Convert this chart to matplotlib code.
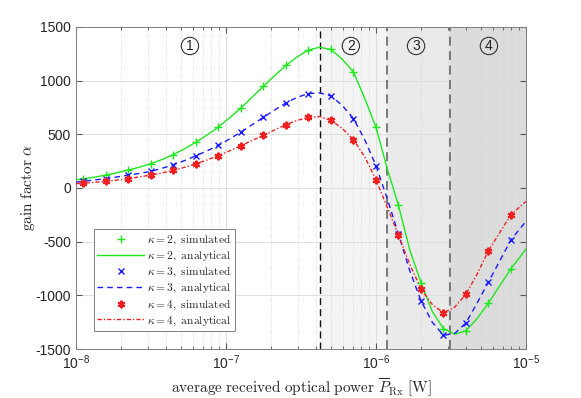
import matplotlib
matplotlib.use("Agg")
import matplotlib.pyplot as plt
import numpy as np

plt.rcParams["font.family"] = ["Liberation Sans", "DejaVu Sans"]
plt.rcParams["mathtext.fontset"] = "custom"
plt.rcParams["mathtext.rm"] = "Liberation Sans"
plt.rcParams["mathtext.it"] = "Liberation Sans:italic"
plt.rcParams["mathtext.bf"] = "Liberation Sans:bold"

# received power grid in dBm (simulation points and analytical curve samples)
dbm_sim = [-49.5, -48.0, -46.5, -45.0, -43.5, -42.0, -40.5, -39.0, -37.5, -36.0,
           -34.5, -33.0, -31.5, -30.0, -28.5, -27.0, -25.5, -24.0, -22.5, -21.0]
dbm_ana = [-50.0, -49.5, -48.75, -48.0, -47.25, -46.5, -45.75, -45.0, -44.25, -43.5,
           -42.75, -42.0, -41.25, -40.5, -39.75, -39.0, -38.25, -37.5, -36.75, -36.0,
           -35.25, -34.5, -33.75, -33.0, -32.25, -31.5, -30.75, -30.0, -29.25, -28.5,
           -27.75, -27.0, -26.25, -25.5, -24.75, -24.0, -23.25, -22.5, -21.75, -21.0,
           -20.0]

k2_sim = [85, 120, 168, 227, 312, 427, 569, 746, 948, 1142,
          1284, 1292, 1080, 565, -162, -881, -1310, -1328, -1072, -752]
k3_sim = [64, 88, 120, 155, 217, 301, 397, 522, 659, 793,
          880, 857, 646, 208, -430, -1051, -1372, -1258, -875, -482]
k4_sim = [45, 62, 87, 121, 164, 226, 301, 395, 491, 590,
          657, 631, 451, 77, -440, -940, -1163, -989, -585, -248]

k2_ana = [77, 85, 102, 120, 143, 168, 195, 227, 266, 312,
          366, 427, 495, 569, 655, 746, 847, 948, 1048, 1142,
          1222, 1285, 1312, 1290, 1200, 1080, 835, 565, 180, -162,
          -575, -881, -1150, -1310, -1362, -1330, -1215, -1072, -910, -752,
          -569]
k3_ana = [55, 63, 75, 88, 103, 120, 136, 155, 184, 217,
          256, 301, 347, 397, 458, 522, 590, 659, 727, 793,
          845, 880, 886, 857, 770, 646, 450, 208, -100, -430,
          -770, -1051, -1250, -1372, -1355, -1256, -1070, -875, -680, -482,
          -311]
k4_ana = [40, 45, 53, 62, 74, 87, 104, 121, 141, 164,
          193, 226, 262, 301, 347, 395, 443, 491, 541, 590,
          630, 657, 665, 631, 555, 451, 290, 77, -180, -440,
          -710, -940, -1085, -1163, -1110, -989, -800, -585, -415, -248,
          -125]

bounds = [4.26e-7, 1.18e-6, 3.11e-6]
region_x = [5.75e-8, 6.8e-7, 1.85e-6, 5.66e-6]
region_lbl = ["1", "2", "3", "4"]

x_sim = 10 ** (np.array(dbm_sim) / 10 - 3)
x_ana = 10 ** (np.array(dbm_ana) / 10 - 3)

fig = plt.figure(figsize=(5.81, 3.98), dpi=100)
ax = fig.add_axes([0.1308, 0.1231, 0.7745, 0.8091])

# shaded regions
ax.axvspan(bounds[0], 1e-5, color="#f4f4f4", lw=0, zorder=0)
ax.axvspan(bounds[1], 1e-5, color="#eaeaea", lw=0, zorder=0)
ax.axvspan(bounds[2], 1e-5, color="#dcdcdc", lw=0, zorder=0)

ax.plot(x_sim, k2_sim, ls="None", marker="+", color="#1ee81e", ms=6, mew=1.0, zorder=4,
        label=r"$\kappa = 2\mathrm{,\ simulated}$")
ax.plot(x_ana, k2_ana, ls="-", color="#1ee81e", lw=1.0, zorder=3,
        label=r"$\kappa = 2\mathrm{,\ analytical}$")
ax.plot(x_sim, k3_sim, ls="None", marker="x", color="#1a1aff", ms=4.5, mew=1.0, zorder=4,
        label=r"$\kappa = 3\mathrm{,\ simulated}$")
ax.plot(x_ana, k3_ana, ls=(0, (4, 3)), color="#1a1aff", lw=1.0, zorder=3,
        label=r"$\kappa = 3\mathrm{,\ analytical}$")
ax.plot(x_sim, k4_sim, ls="None", marker=(6, 2, 0), color="#f02020", ms=5.5, mew=1.5, zorder=4,
        label=r"$\kappa = 4\mathrm{,\ simulated}$")
ax.plot(x_ana, k4_ana, ls=(0, (3, 1.5, 1, 1.5)), color="#f02020", lw=1.0, zorder=3,
        label=r"$\kappa = 4\mathrm{,\ analytical}$")

ax.axvline(bounds[0], color="#111111", ls=(0, (5, 3)), lw=1.0, zorder=2)
ax.axvline(bounds[1], color="#707070", ls=(0, (5, 3)), lw=1.3, zorder=2)
ax.axvline(bounds[2], color="#707070", ls=(0, (5, 3)), lw=1.3, zorder=2)

for xp, t in zip(region_x, region_lbl):
    ax.text(xp, 1323, t, ha="center", va="center", fontsize=10, color="#222222",
            bbox=dict(boxstyle="circle,pad=0.12", fc="none", ec="#333333", lw=0.8))

ax.set_xscale("log")
ax.set_xlim(1e-8, 1e-5)
ax.set_ylim(-1500, 1500)
ax.set_yticks([-1500, -1000, -500, 0, 500, 1000, 1500])
ax.set_yticklabels(["-1500", "-1000", "-500", "0", "500", "1000", "1500"])

ax.grid(True, which="major", color="#dedede", lw=0.7, zorder=1)
ax.grid(True, which="minor", axis="x", color="#d0d0d0", ls=":", lw=0.6, zorder=1)
ax.set_axisbelow(True)

ax.tick_params(which="both", direction="in", top=True, right=True,
               colors="#555555", labelcolor="#262626", labelsize=10)
ax.tick_params(which="major", length=4)
ax.tick_params(which="minor", length=2)
for s in ax.spines.values():
    s.set_color("#808080")
    s.set_linewidth(0.7)

xl = ax.set_xlabel(r"$\mathrm{average\ received\ optical\ power}\ \overline{P}_{\mathrm{Rx}}\ \mathrm{[W]}$",
                   fontsize=11, color="#262626", labelpad=3)
yl = ax.set_ylabel(r"$\mathrm{gain\ factor}\ \alpha$", fontsize=11, color="#262626", labelpad=-1)
xl.set_math_fontfamily("cm")
yl.set_math_fontfamily("cm")

leg = ax.legend(loc="lower left", bbox_to_anchor=(0.04, 0.056), borderaxespad=0,
                fontsize=8.3, handlelength=4.0, labelspacing=0.2, handletextpad=0.3,
                borderpad=0.3, fancybox=False, framealpha=1, edgecolor="#808080")
leg.get_frame().set_linewidth(0.7)
for t in leg.get_texts():
    t.set_math_fontfamily("cm")
    t.set_color("#262626")

fig.savefig("out.png", dpi=100)
